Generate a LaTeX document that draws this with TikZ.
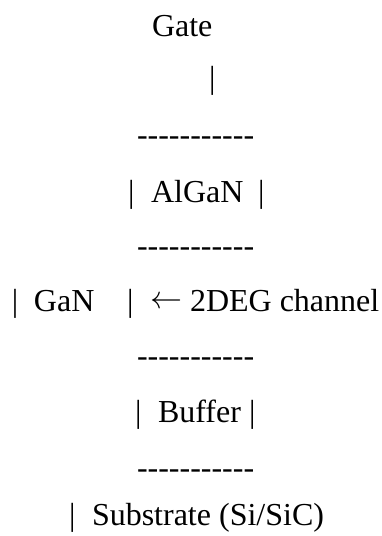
\documentclass[tikz,border=0pt]{standalone}
\usepackage{graphicx}
\usepackage{fontspec}
\setmainfont{Liberation Serif}
% a single hyphen that cannot join its neighbours into a dash ligature
\newcommand\hyph{-\kern0pt}
\newcommand\dashrow{\hyph\hyph\hyph\hyph\hyph\hyph\hyph\hyph\hyph\hyph\hyph}
\begin{document}
\begin{tikzpicture}[x=1pt,y=-1pt,
  txt/.style={inner sep=0pt,outer sep=0pt,anchor=base west,
    font=\fontsize{32}{38}\selectfont}]
\useasboundingbox (0,0) rectangle (381,536);
% gate contact
\node[txt] (gate) at (152,36) {Gate};
\node[txt] (gbar) at (209,88) {|};
\node[txt] (d1) at (137,145) {\dashrow};
% AlGaN barrier
\node[txt] (b1l) at (128,202) {|};
\node[txt] (algan) at (151,202) {AlGaN};
\node[txt] (b1r) at (258,202) {|};
\node[txt] (d2) at (137,256) {\dashrow};
% GaN channel layer
\node[txt] (b2l) at (12,311) {|};
\node[txt] (gan) at (34,311) {GaN};
\node[txt] (b2r) at (127,311) {|};
\node[txt] (arr) at (150,311) {\raisebox{2.5pt}{\resizebox{32pt}{!}{$\leftarrow$}}};
\node[txt] (deg) at (190,311) {2DEG channel};
\node[txt] (d3) at (137,366) {\dashrow};
% buffer layer
\node[txt] (b3l) at (135,422) {|};
\node[txt] (buf) at (158,422) {Buffer};
\node[txt] (b3r) at (249,422) {|};
\node[txt] (d4) at (137,478) {\dashrow};
% substrate
\node[txt] (b4l) at (69,525) {|};
\node[txt] (sub) at (92,525) {Substrate (Si/SiC)};
\end{tikzpicture}
\end{document}
